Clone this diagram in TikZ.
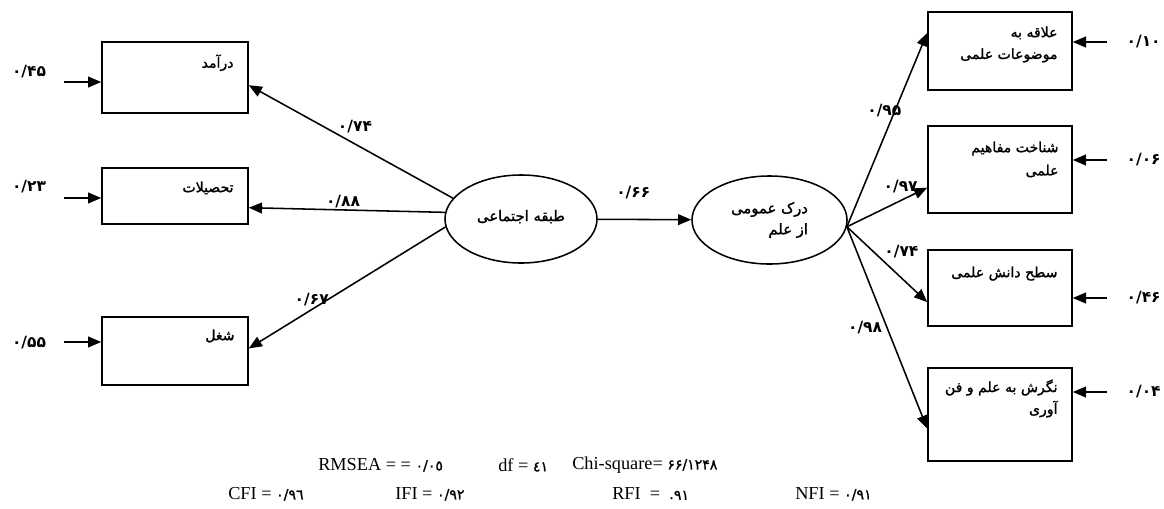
\documentclass[tikz,border=0pt]{standalone}
\usepackage{fontspec}
\setmainfont{Liberation Serif}
\newfontfamily\farsi[Script=Arabic, FakeBold=1.4]{DejaVu Sans}
\newfontfamily\farsinum[Script=Arabic]{DejaVu Sans Bold}
\TeXXeTstate=1
\usetikzlibrary{shapes.geometric,arrows.meta,positioning,calc}
\newcommand{\rtltext}[1]{\beginR#1\endR}
\newcommand{\fitnum}[1]{{\farsi\fontsize{10}{10}\selectfont #1}}

\begin{document}
\begin{tikzpicture}[
    x=0.025cm, y=-0.025cm,
    % Style definitions
    indicator/.style={rectangle, draw, line width=1.1pt, minimum width=3.6cm, inner sep=0pt},
    latent/.style={ellipse, draw, line width=1.1pt, minimum width=3.8cm, minimum height=2.2cm, inner sep=0pt, align=right, font=\farsi\fontsize{10.5}{15}\selectfont},
    boxtext/.style={anchor=north east, align=right, inner sep=0pt, font=\farsi\fontsize{10}{15.5}\selectfont},
    coef/.style={inner sep=1pt, font=\farsinum\fontsize{11}{11}\selectfont},
    fitindex/.style={anchor=west, inner sep=0pt, font=\fontsize{13}{13}\selectfont},
    arrow/.style={-{Triangle[length=0.33cm, width=0.27cm]}, line width=1.1pt}
]
\useasboundingbox (0,0) rectangle (1164,508);

% Latent variables
\node[latent] (E1) at (521,219) {\raisebox{5pt}{\rtltext{طبقه اجتماعی}}};
\node[latent, minimum width=3.875cm] (E2) at (769.5,220) {\raisebox{-2pt}{\rtltext{درک عمومی}}\\\raisebox{-2pt}{\rtltext{از علم}}};

% Left indicators
\node[indicator, minimum width=3.65cm, minimum height=1.775cm] (L1) at (175,77.5) {};
\node[indicator, minimum width=3.65cm, minimum height=1.4cm] (L2) at (175,196) {};
\node[indicator, minimum width=3.65cm, minimum height=1.7cm] (L3) at (175,351) {};
\node[boxtext] (L1t) at ($(L1.north east)+(-15,13)$) {\rtltext{درآمد}};
\node[boxtext] (L2t) at ($(L2.north east)+(-15,14)$) {\rtltext{تحصیلات}};
\node[boxtext] (L3t) at ($(L3.north east)+(-14,13)$) {\rtltext{شغل}};

% Right indicators
\node[indicator, minimum height=1.95cm] (R1) at (1000,51) {};
\node[indicator, minimum height=2.175cm] (R2) at (1000,169.5) {};
\node[indicator, minimum height=1.9cm] (R3) at (1000,288) {};
\node[indicator, minimum height=2.325cm] (R4) at (1000,414.5) {};
\node[boxtext] (R1t) at ($(R1.north east)+(-15,15)$) {\rtltext{علاقه به}\\\rtltext{موضوعات علمی}};
\node[boxtext, font=\farsi\fontsize{10}{16.5}\selectfont] (R2t) at ($(R2.north east)+(-14,16)$) {\rtltext{شناخت مفاهیم}\\\rtltext{علمی}};
\node[boxtext] (R3t) at ($(R3.north east)+(-15,17)$) {\rtltext{سطح دانش علمی}};
\node[boxtext] (R4t) at ($(R4.north east)+(-15,12)$) {\rtltext{نگرش به علم و فن}\\\rtltext{آوری}};

% Connections
\draw[arrow] (E1.163) -- node[coef, pos=0.48, above=6pt] {۰/۷۴} (L1.-6);
\draw[arrow] (E1.175) -- node[coef, pos=0.52, above=0pt] {۰/۸۸} (L2.-9);
\draw[arrow] (E1.186) -- node[coef, pos=0.68, above=1pt] {۰/۶۷} (L3.2);
\draw[arrow] (E1) -- node[coef, pos=0.38, above=13pt] {۰/۶۶} (E2);

\draw[arrow] (E2.-5) -- node[coef, pos=0.6, anchor=east, xshift=6pt] {۰/۹۵} (R1.166);
\draw[arrow] (E2.-5) -- node[coef, pos=0.67, above=4pt] {۰/۹۷} (R2.194);
\draw[arrow] (E2.-5) -- node[coef, pos=0.44, anchor=south west] {۰/۷۴} (R3.191);
\draw[arrow] (E2.-5) -- node[coef, pos=0.5, anchor=east, xshift=-2pt] {۰/۹۸} (R4.191);

% Error terms
\coordinate (eL1) at (64,82);
\coordinate (eL2) at (64,198);
\coordinate (eL3) at (64,342);
\node[coef] (eL1lab) at (29,72) {۰/۴۵};
\node[coef] (eL2lab) at (29,187) {۰/۲۳};
\node[coef] (eL3lab) at (29,343) {۰/۵۵};
\draw[arrow] (eL1) -- (eL1 -| L1.west);
\draw[arrow] (eL2) -- (eL2 -| L2.west);
\draw[arrow] (eL3) -- (eL3 -| L3.west);

\coordinate (eR1) at (1107,42);
\coordinate (eR2) at (1107,160);
\coordinate (eR3) at (1107,298);
\coordinate (eR4) at (1107,392);
\node[coef, anchor=west] (eR1lab) at (1125,42) {۰/۱۰};
\node[coef, anchor=west] (eR2lab) at (1125,160) {۰/۰۶};
\node[coef, anchor=west] (eR3lab) at (1125,298) {۰/۴۶};
\node[coef, anchor=west] (eR4lab) at (1125,392) {۰/۰۴};
\draw[arrow] (eR1) -- (eR1 -| R1.east);
\draw[arrow] (eR2) -- (eR2 -| R2.east);
\draw[arrow] (eR3) -- (eR3 -| R3.east);
\draw[arrow] (eR4) -- (eR4 -| R4.east);

% Fit indices
\node[fitindex] (rmsea) at (318,465) {RMSEA = = \fitnum{٠/٠٥}};
\node[fitindex] (df) at (498,465) {df = \fitnum{٤١}};
\node[fitindex] (chisq) at (572,465) {Chi-square= \fitnum{۶۶/۱۲۴۸}};
\node[fitindex] (cfi) at (228,494) {CFI = \fitnum{٠/٩٦}};
\node[fitindex] (ifi) at (395,494) {IFI = \fitnum{٠/٩٢}};
\node[fitindex] (rfi) at (612,494) {RFI \ = \ .\fitnum{٩١}};
\node[fitindex] (nfi) at (795,494) {NFI = \fitnum{٠/٩١}};

\end{tikzpicture}
\end{document}
